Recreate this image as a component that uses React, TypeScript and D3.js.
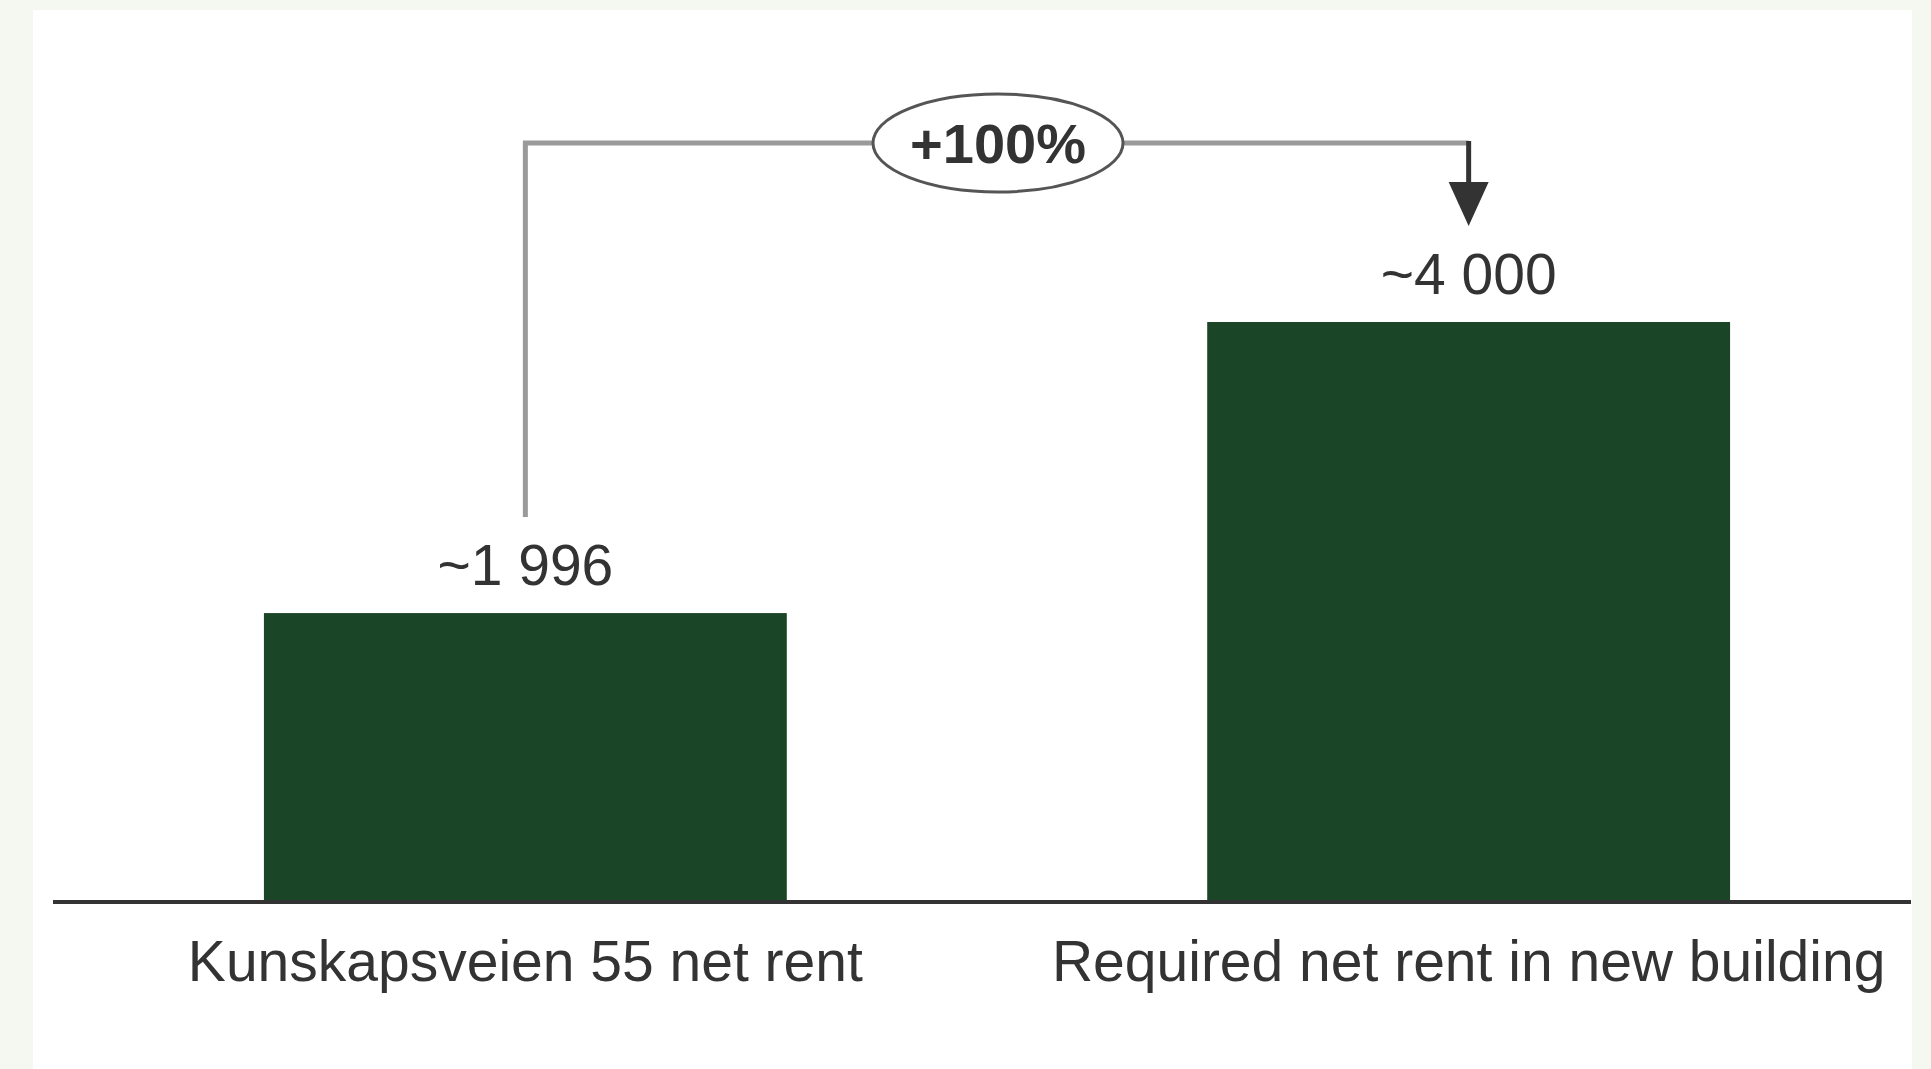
import React from "react";
import * as d3 from "d3";

const categories: string[] = ["Kunskapsveien 55 net rent", "Required net rent in new building"];
const values: number[] = [1996, 4000];
const valueLabels: string[] = ["~1 996", "~4 000"];
const changeLabel = "+100%";

const W = 1931;
const H = 1069;
const FONT = "'Liberation Sans', Arial, sans-serif";

export default function App() {
  const x = d3
    .scaleBand<string>()
    .domain(categories)
    .range([53, 1941])
    .paddingInner(0.4457)
    .paddingOuter(0.2236);
  const y = d3.scaleLinear().domain([0, 4000]).range([903, 322]);
  const bw = x.bandwidth();
  const cx = (c: string) => (x(c) as number) + bw / 2;

  const x1 = cx(categories[0]);
  const x2 = cx(categories[1]);
  const topY = 143;
  const startY = y(values[0]) - 96;
  const tipY = y(values[1]) - 96;
  const ex = 998;

  return (
    <svg
      width={W}
      height={H}
      style={{ position: "absolute", left: 0, top: 0, display: "block" }}
      fontFamily={FONT}
    >
      <rect x={0} y={0} width={W} height={H} fill="#f5f7f1" />
      <rect x={33} y={10} width={1879} height={H - 10} fill="#ffffff" />

      {categories.map((c, i) => (
        <rect
          key={c}
          x={x(c)}
          y={y(values[i])}
          width={bw}
          height={y(0) - y(values[i])}
          fill="#1a4526"
        />
      ))}

      <line x1={53} x2={1911} y1={902} y2={902} stroke="#333333" strokeWidth={4} />

      {categories.map((c, i) => (
        <text
          key={"v" + c}
          x={cx(c)}
          y={y(values[i]) - 28}
          textAnchor="middle"
          fontSize={57}
          fill="#333333"
        >
          {valueLabels[i]}
        </text>
      ))}

      {categories.map((c) => (
        <text
          key={"c" + c}
          x={cx(c)}
          y={981}
          textAnchor="middle"
          fontSize={57}
          fill="#333333"
        >
          {c}
        </text>
      ))}

      <path
        d={`M${x1},${startY} L${x1},${topY} L${x2},${topY}`}
        fill="none"
        stroke="#9a9a9a"
        strokeWidth={5}
      />
      <line x1={x2} x2={x2} y1={topY - 2} y2={tipY - 30} stroke="#333333" strokeWidth={5} />
      <path
        d={`M${x2 - 20},${tipY - 44} L${x2 + 20},${tipY - 44} L${x2},${tipY} Z`}
        fill="#333333"
      />

      <ellipse cx={ex} cy={topY} rx={125} ry={49} fill="#ffffff" stroke="#555555" strokeWidth={3} />
      <text
        x={ex}
        y={topY + 20}
        textAnchor="middle"
        fontSize={56}
        fontWeight="bold"
        fill="#333333"
      >
        {changeLabel}
      </text>
    </svg>
  );
}
